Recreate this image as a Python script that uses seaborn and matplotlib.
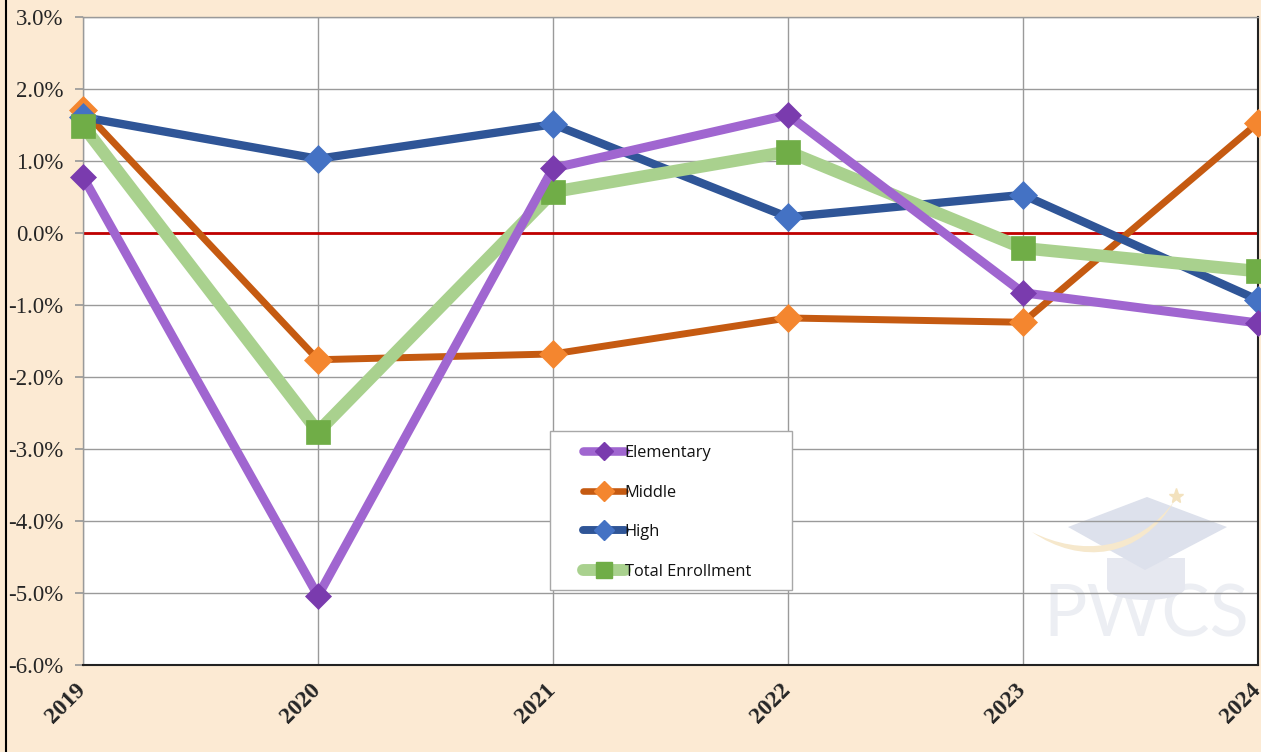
import matplotlib
matplotlib.use("Agg")
import matplotlib.pyplot as plt
from matplotlib.lines import Line2D
from matplotlib.patches import Polygon, Rectangle, Ellipse, PathPatch
from matplotlib.path import Path
from matplotlib.transforms import ScaledTranslation
import seaborn as sns
import pandas as pd

# Year-over-year enrollment change (%) by school level
years = [2019, 2020, 2021, 2022, 2023, 2024]
elementary = [0.78, -5.04, 0.90, 1.64, -0.83, -1.25]
middle = [1.71, -1.76, -1.68, -1.18, -1.24, 1.53]
high = [1.61, 1.03, 1.51, 0.22, 0.53, -0.93]
total = [1.49, -2.76, 0.57, 1.13, -0.21, -0.53]
series_names = ["Elementary", "Middle", "High", "Total Enrollment"]
y_ticks = [3, 2, 1, 0, -1, -2, -3, -4, -5, -6]

sns.set_theme(style="white")
plt.rcParams["font.family"] = ["Liberation Serif", "DejaVu Serif"]

W, H = 1261, 752
bg = "#FCEAD3"
fig = plt.figure(figsize=(W / 100, H / 100), dpi=100, facecolor=bg)
ax = fig.add_axes([83 / W, 1 - 665 / H, (1258 - 83) / W, (665 - 17) / H])
ax.set_facecolor("white")
ax.set_axisbelow(True)


def px(x, y):
    """Pixel position (from top-left) to figure fraction."""
    return (x / W, 1 - y / H)


# Watermark logo, kept beneath the grid
ft = fig.transFigure
ax.text(*px(1146, 616), "PWCS", transform=ft, ha="center", va="center",
        fontsize=52, color="#ECEEF3", fontweight="normal",
        family=["Lato", "Liberation Sans"], zorder=0.1)
ax.add_patch(Rectangle(px(1107, 588), 78 / W, 30 / H, transform=ft,
                       facecolor="#E6E8F0", edgecolor="none", zorder=0.15))
ax.add_patch(Ellipse(px(1146, 588), 78 / W, 24 / H, transform=ft,
                     facecolor="#E6E8F0", edgecolor="none", zorder=0.15))
ax.add_patch(Polygon([px(1068, 527), px(1147, 497), px(1227, 527), px(1145, 570)],
                     closed=True, transform=ft, facecolor="#DDE1EC",
                     edgecolor="none", zorder=0.2))
swoosh = Path([px(1032, 532), px(1080, 565), px(1140, 560), px(1175, 500),
               px(1138, 552), px(1080, 556), px(1032, 532)],
              [Path.MOVETO, Path.CURVE4, Path.CURVE4, Path.CURVE4,
               Path.CURVE4, Path.CURVE4, Path.CURVE4])
ax.add_patch(PathPatch(swoosh, transform=ft, facecolor="#F6E8CC",
                       edgecolor="none", zorder=0.25))
ax.plot([1176 / W], [1 - 496 / H], marker="*", ms=11, color="#F3E2BE",
        transform=ft, zorder=0.25, clip_on=False)

styles = {
    "Elementary": dict(line="#A066D0", mk="#7A3BAE", marker="D", lw=6.5, ms=13),
    "Middle": dict(line="#C55A11", mk="#F4862F", marker="D", lw=5, ms=14),
    "High": dict(line="#2F5597", mk="#4472C4", marker="D", lw=6, ms=14),
    "Total Enrollment": dict(line="#A9D18E", mk="#70AD47", marker="s", lw=9, ms=17),
}
values = [elementary, middle, high, total]
df = pd.DataFrame({"year": years * 4,
                   "change": sum(values, []),
                   "series": [n for n in series_names for _ in years]})

order_draw = ["Middle", "High", "Total Enrollment", "Elementary"]
for z, name in enumerate(order_draw):
    st = styles[name]
    sns.lineplot(data=df[df["series"] == name], x="year", y="change", ax=ax,
                 color=st["line"], lw=st["lw"], marker=st["marker"], ms=st["ms"],
                 markerfacecolor=st["mk"], markeredgecolor=st["mk"], markeredgewidth=0.5,
                 clip_on=False, zorder=3 + z, legend=False)

ax.axhline(0, color="#C00000", lw=2, zorder=2.5)

ax.set_xlim(2019, 2024)
ax.set_ylim(-6, 3)
ax.set_xticks(years)
ax.set_yticks(y_ticks)
ax.set_yticklabels([f"{v:.1f}%" for v in y_ticks], fontsize=16.5)
ax.set_xlabel("")
ax.set_ylabel("")
ax.grid(True, color="#9A9A9A", lw=1)
ax.tick_params(axis="y", length=6, color="#9A9A9A", pad=8, left=True)
ax.tick_params(axis="x", length=0, pad=8)
ax.set_xticklabels([str(y) for y in years], rotation=45, ha="right",
                   rotation_mode="anchor", fontsize=17, fontweight="bold")
shift = ScaledTranslation(-0.08, -0.03, fig.dpi_scale_trans)
for lab in ax.get_xticklabels():
    lab.set_transform(lab.get_transform() + shift)

for side in ["left", "top"]:
    ax.spines[side].set_color("#9A9A9A")
    ax.spines[side].set_linewidth(1)
for side in ["right", "bottom"]:
    ax.spines[side].set_color("#222222")
    ax.spines[side].set_linewidth(1.5)

# Figure border line at the left edge
fig.add_artist(Line2D([6 / W, 6 / W], [0, 1], transform=ft, color="black", lw=1.5))

# Legend with its own frame box
ax.add_patch(Rectangle(((550 - 83) / 1175, (665 - 590) / 648), 242 / 1175, 159 / 648,
                       transform=ax.transAxes, facecolor="white", edgecolor="#A8A8A8",
                       lw=1, zorder=9))
handles = []
for name in series_names:
    st = styles[name]
    handles.append(Line2D([0], [0], color=st["line"], lw=st["lw"] * 0.95,
                          marker=st["marker"], ms=st["ms"] * 0.7,
                          markerfacecolor=st["mk"], markeredgecolor=st["mk"],
                          solid_capstyle="round"))
leg = ax.legend(handles, series_names, loc="upper left",
                bbox_to_anchor=((583 - 83) / 1175, (665 - 445) / 648),
                prop={"family": ["Open Sans", "Liberation Sans"], "size": 11.8},
                frameon=False, handlelength=2.55, handletextpad=0.0,
                labelspacing=1.44, borderpad=0, borderaxespad=0)
leg.set_zorder(10)
for t in leg.get_texts():
    t.set_color("#111111")

fig.savefig("out.png", dpi=100, facecolor=bg)
